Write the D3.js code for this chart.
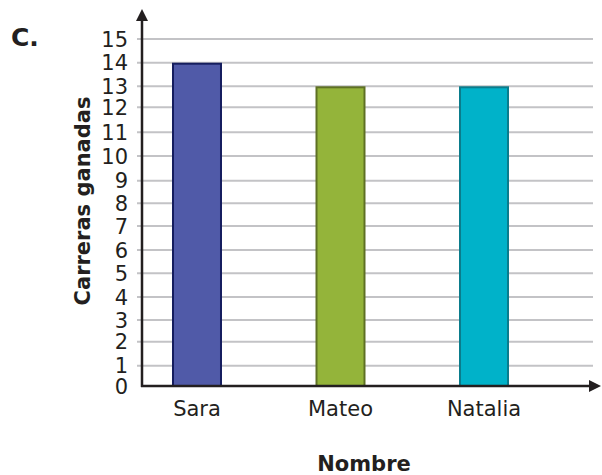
<!DOCTYPE html>
<html><head><meta charset="utf-8">
<script src="https://cdn.jsdelivr.net/npm/d3@7"></script>
<style>body{margin:0;background:#fff}svg{display:block}</style>
</head><body>
<script>
const categories = ["Sara", "Mateo", "Natalia"];
const values = [14, 13, 13];
const yTicks = [0,1,2,3,4,5,6,7,8,9,10,11,12,13,14,15];
const fills = ["#505aa8", "#94b43a", "#00b2c9"];
const strokes = ["#151d5e", "#5e7024", "#0a7c8c"];

const W = 602, H = 475;
const svg = d3.select("body").append("svg").attr("width", W).attr("height", H);
const font = "DejaVu Sans, Verdana, sans-serif";
const ink = "#231f20";

// the reference's value axis has uneven spacing between gridlines
const y = d3.scaleLinear()
  .domain(yTicks)
  .range([386, 365.7, 341.7, 320, 297, 273.3, 250, 226, 203.3, 180.7, 156, 132.3, 107.3, 86.3, 62.7, 39]);
const x = d3.scaleBand().domain(categories).range([142, 539]).paddingInner(0.6516).paddingOuter(0.209);

const axisX = 142;
// gridlines
svg.append("g").selectAll("line").data(yTicks.filter(d => d > 0)).join("line")
  .attr("x1", 137).attr("x2", 593).attr("y1", d => y(d)).attr("y2", d => y(d))
  .attr("stroke", "#c3c3c6").attr("stroke-width", 2);

// tick labels
svg.append("g").selectAll("text").data(yTicks).join("text")
  .attr("x", 128).attr("y", d => y(d)).attr("dy", "0.36em")
  .attr("text-anchor", "end").attr("font-family", font).attr("font-size", 21)
  .attr("fill", ink).text(d => d);

// bars
svg.append("g").selectAll("rect").data(values).join("rect")
  .attr("x", (d, i) => x(categories[i]) + 1)
  .attr("width", x.bandwidth() - 2)
  .attr("y", d => y(d) + 1)
  .attr("height", d => y(0) - y(d) - 1)
  .attr("fill", (d, i) => fills[i])
  .attr("stroke", (d, i) => strokes[i]).attr("stroke-width", 2);

// axes
svg.append("line").attr("x1", axisX).attr("x2", axisX).attr("y1", 18).attr("y2", y(0) + 1)
  .attr("stroke", ink).attr("stroke-width", 2.5);
svg.append("line").attr("x1", axisX - 1).attr("x2", 592).attr("y1", y(0)).attr("y2", y(0))
  .attr("stroke", ink).attr("stroke-width", 2.5);
svg.append("path").attr("d", `M${axisX},9 L${axisX - 6},21 L${axisX + 6},21 Z`).attr("fill", ink);
svg.append("path").attr("d", `M601,${y(0)} L589,${y(0) - 6} L589,${y(0) + 6} Z`).attr("fill", ink);

// category labels
svg.append("g").selectAll("text").data(categories).join("text")
  .attr("x", d => x(d) + x.bandwidth() / 2).attr("y", 416)
  .attr("text-anchor", "middle").attr("font-family", font).attr("font-size", 21)
  .attr("fill", ink).text(d => d);

// axis titles
svg.append("text").attr("transform", "translate(90,201) rotate(-90)")
  .attr("text-anchor", "middle").attr("font-family", font).attr("font-size", 21)
  .attr("font-weight", "bold").attr("fill", ink).text("Carreras ganadas");
svg.append("text").attr("x", 364).attr("y", 471)
  .attr("text-anchor", "middle").attr("font-family", font).attr("font-size", 21)
  .attr("font-weight", "bold").attr("fill", ink).text("Nombre");
svg.append("text").attr("x", 11).attr("y", 46)
  .attr("font-family", font).attr("font-size", 25)
  .attr("font-weight", "bold").attr("fill", ink).text("C.");
</script>
</body></html>
